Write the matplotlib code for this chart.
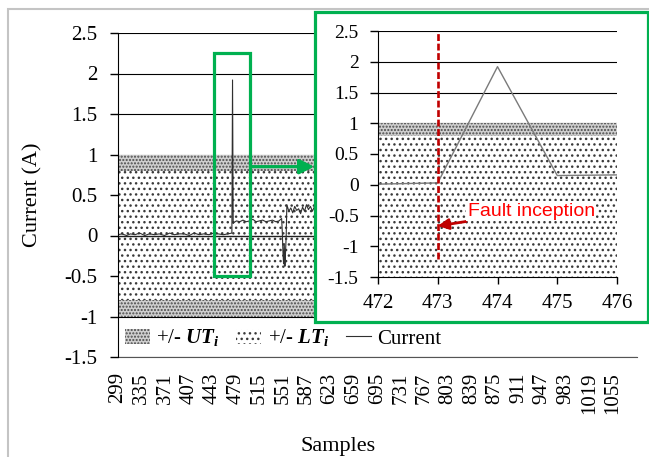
import matplotlib
matplotlib.use('Agg')
import matplotlib.pyplot as plt
from matplotlib.patches import Rectangle

plt.rcParams['font.family'] = ['Liberation Serif', 'DejaVu Serif']
plt.rcParams['mathtext.fontset'] = 'custom'
plt.rcParams['mathtext.rm'] = 'Liberation Serif'
plt.rcParams['mathtext.it'] = 'Liberation Serif:italic'
plt.rcParams['mathtext.bf'] = 'Liberation Serif:bold'
plt.rcParams['mathtext.bfit'] = 'Liberation Serif:italic:bold'
plt.rcParams['hatch.linewidth'] = 1.0

# ---------------- data ----------------
sample_range = [299, 1092]
ut_level = 1.0
lt_level = 0.8

current_samples = [299, 305, 312, 318, 325, 332, 340, 347, 355, 362, 370, 378, 385,
                   393, 400, 408, 415, 423, 430, 438, 445, 452, 460, 467, 473,
                   474, 475, 476, 480, 485, 490, 495, 500, 505, 510, 515, 520, 525,
                   530, 535, 540, 545, 549, 550, 551, 552, 553, 554, 555, 556, 557,
                   560, 563, 566, 569, 572, 575, 578, 581, 584, 587, 590, 593, 596,
                   600, 650, 700, 750, 800, 850, 900, 950, 1000, 1050, 1092]
current_values = [0.01, 0.02, 0.00, 0.02, 0.01, 0.03, 0.00, 0.02, 0.01, 0.02, 0.00, 0.03, 0.01,
                  0.02, 0.02, 0.00, 0.03, 0.01, 0.02, 0.01, 0.03, 0.02, 0.01, 0.02, 0.03,
                  1.92, 0.15, 0.16, 0.18, 0.17, 0.19, 0.17, 0.18, 0.20, 0.17, 0.18, 0.19, 0.17,
                  0.18, 0.19, 0.17, 0.18, 0.21, 0.05, -0.20, -0.35, -0.10, -0.38, -0.20, 0.00, 0.38,
                  0.30, 0.34, 0.28, 0.36, 0.31, 0.33, 0.27, 0.35, 0.30, 0.38, 0.32, 0.36, 0.30,
                  0.37, 0.33, 0.35, 0.32, 0.34, 0.33, 0.35, 0.32, 0.34, 0.33, 0.34]

x_tick_labels = [299, 335, 371, 407, 443, 479, 515, 551, 587, 623, 659,
                 695, 731, 767, 803, 839, 875, 911, 947, 983, 1019, 1055]
y_ticks = [-1.5, -1.0, -0.5, 0.0, 0.5, 1.0, 1.5, 2.0, 2.5]
y_tick_labels = ['-1.5', '-1', '-0.5', '0', '0.5', '1', '1.5', '2', '2.5']

zoom_samples = [472, 473, 474, 475, 476]
zoom_values = [0.01, 0.03, 1.92, 0.15, 0.16]
fault_sample = 473
fault_line_bottom = -1.2

# ---------------- style ----------------
W, H = 649, 457
green = '#00B050'
dark_red = '#C00000'
dark_face = '#cfcfcf'
dark_hatch = '#4a4a4a'
light_hatch = '#3a3a3a'

fig = plt.figure(figsize=(W / 100, H / 100), dpi=100)

# outer chart-area frame (partly cropped)
fig.patches.append(Rectangle((8 / W, -0.05), 1.2, 1 - 9 / H + 0.05, transform=fig.transFigure,
                             facecolor='none', edgecolor='#c4c4c4', lw=1.5, zorder=-1))

# ---------------- main axes ----------------
ax = fig.add_axes([118 / W, 1 - 357 / H, (637 - 118) / W, (357 - 33) / H])
ax.set_xlim(sample_range)
ax.set_ylim(-1.5, 2.5)

for yv in y_ticks:
    ax.axhline(yv, color='black', lw=0.8, zorder=0.5)

ut_fill = ax.fill_between(sample_range, [-ut_level] * 2, [ut_level] * 2, facecolor=dark_face,
                          edgecolor=dark_hatch, hatch='.....', linewidth=0, zorder=1,
                          label=r'+/- $\mathbfit{UT_i}$')
lt_fill = ax.fill_between(sample_range, [-lt_level] * 2, [lt_level] * 2, facecolor='white',
                          edgecolor=light_hatch, hatch='...', linewidth=0, zorder=1.1,
                          label=r'+/- $\mathbfit{LT_i}$')
ax.axhline(0, color='#202020', lw=1.0, zorder=2)
cur_line, = ax.plot(current_samples, current_values, color='#303030', lw=0.8, zorder=3,
                    label='Current')

ax.set_xticks(x_tick_labels)
ax.set_xticklabels([str(v) for v in x_tick_labels], rotation=90, fontsize=15)
ax.set_yticks(y_ticks)
ax.set_yticklabels(y_tick_labels, fontsize=15)
ax.tick_params(axis='x', length=0, pad=11)
ax.tick_params(axis='y', direction='out', length=6, width=1, pad=9)
for s in ['top', 'right']:
    ax.spines[s].set_visible(False)
ax.spines['left'].set_color('black')
ax.spines['bottom'].set_color('#555555')
ax.spines['left'].set_zorder(4)

ax.set_ylabel('Current (A)', fontsize=16)
ax.yaxis.set_label_coords((42 - 118) / 519, 0.5)
ax.set_xlabel('Samples', fontsize=16)
ax.xaxis.set_label_coords((338 - 118) / 519, (357 - 437) / 324)

ax.legend(handles=[ut_fill, lt_fill, cur_line], loc='center left',
          bbox_to_anchor=(0.005, (357 - 338) / 324), ncol=3, frameon=False, fontsize=15,
          handlelength=1.2, handletextpad=0.3, columnspacing=0.8, borderaxespad=0,
          borderpad=0.2)

# zoom-region box and arrow
ax.add_patch(Rectangle((445, -0.5), 56, 2.75, facecolor='none', edgecolor=green, lw=2.3,
                       zorder=5, clip_on=False))
ax.annotate('', xy=(599, 0.85), xytext=(501, 0.85),
            arrowprops=dict(arrowstyle='-|>', color=green, lw=2.3, mutation_scale=22,
                            shrinkA=0, shrinkB=0), zorder=5)

# ---------------- inset ----------------
fig.patches.append(Rectangle((315 / W, 1 - 322 / H), (648 - 315) / W, (322 - 12) / H,
                             transform=fig.transFigure, facecolor='white', edgecolor=green,
                             lw=2.3, zorder=1))

ax2 = fig.add_axes([378 / W, 1 - 277 / H, (617 - 378) / W, (277 - 31) / H])
ax2.set_zorder(2)
ax2.set_facecolor('none')
ax2.set_xlim(zoom_samples[0], zoom_samples[-1])
ax2.set_ylim(-1.5, 2.5)
for yv in y_ticks:
    ax2.axhline(yv, color='black', lw=0.8, zorder=0.5)
ax2.fill_between(zoom_samples, [lt_level] * 5, [ut_level] * 5, facecolor=dark_face,
                 edgecolor=dark_hatch, hatch='.....', linewidth=0, zorder=1)
ax2.fill_between(zoom_samples, [-1.5] * 5, [lt_level] * 5, facecolor='white',
                 edgecolor=light_hatch, hatch='...', linewidth=0, zorder=1.1)
ax2.plot(zoom_samples, zoom_values, color='#7a7a7a', lw=1.0, zorder=3)
ax2.plot([fault_sample, fault_sample], [fault_line_bottom, 2.5], color=dark_red, lw=1.9,
         dashes=(2.6, 1.0), zorder=4)
ax2.annotate('Fault inception', xy=(fault_sample, -0.67), xytext=(473.5, -0.43),
             textcoords='data', ha='left', va='center', color='#FF0000', fontsize=14,
             family=['Liberation Sans', 'DejaVu Sans'],
             bbox=dict(facecolor='white', edgecolor='none', pad=1.0),
             arrowprops=dict(arrowstyle='-|>', color=dark_red, lw=2.0, mutation_scale=16,
                             shrinkA=2, shrinkB=0), zorder=5)

ax2.set_xticks(zoom_samples)
ax2.set_xticklabels([str(v) for v in zoom_samples], fontsize=15)
ax2.set_yticks(y_ticks)
ax2.set_yticklabels(y_tick_labels, fontsize=14)
ax2.tick_params(axis='x', direction='out', length=5, width=1, pad=7)
ax2.tick_params(axis='y', direction='out', length=6, width=1, pad=8)
for s in ['top', 'right']:
    ax2.spines[s].set_visible(False)
ax2.spines['left'].set_zorder(4)
ax2.spines['bottom'].set_zorder(4)

fig.savefig('out.png', dpi=100)
